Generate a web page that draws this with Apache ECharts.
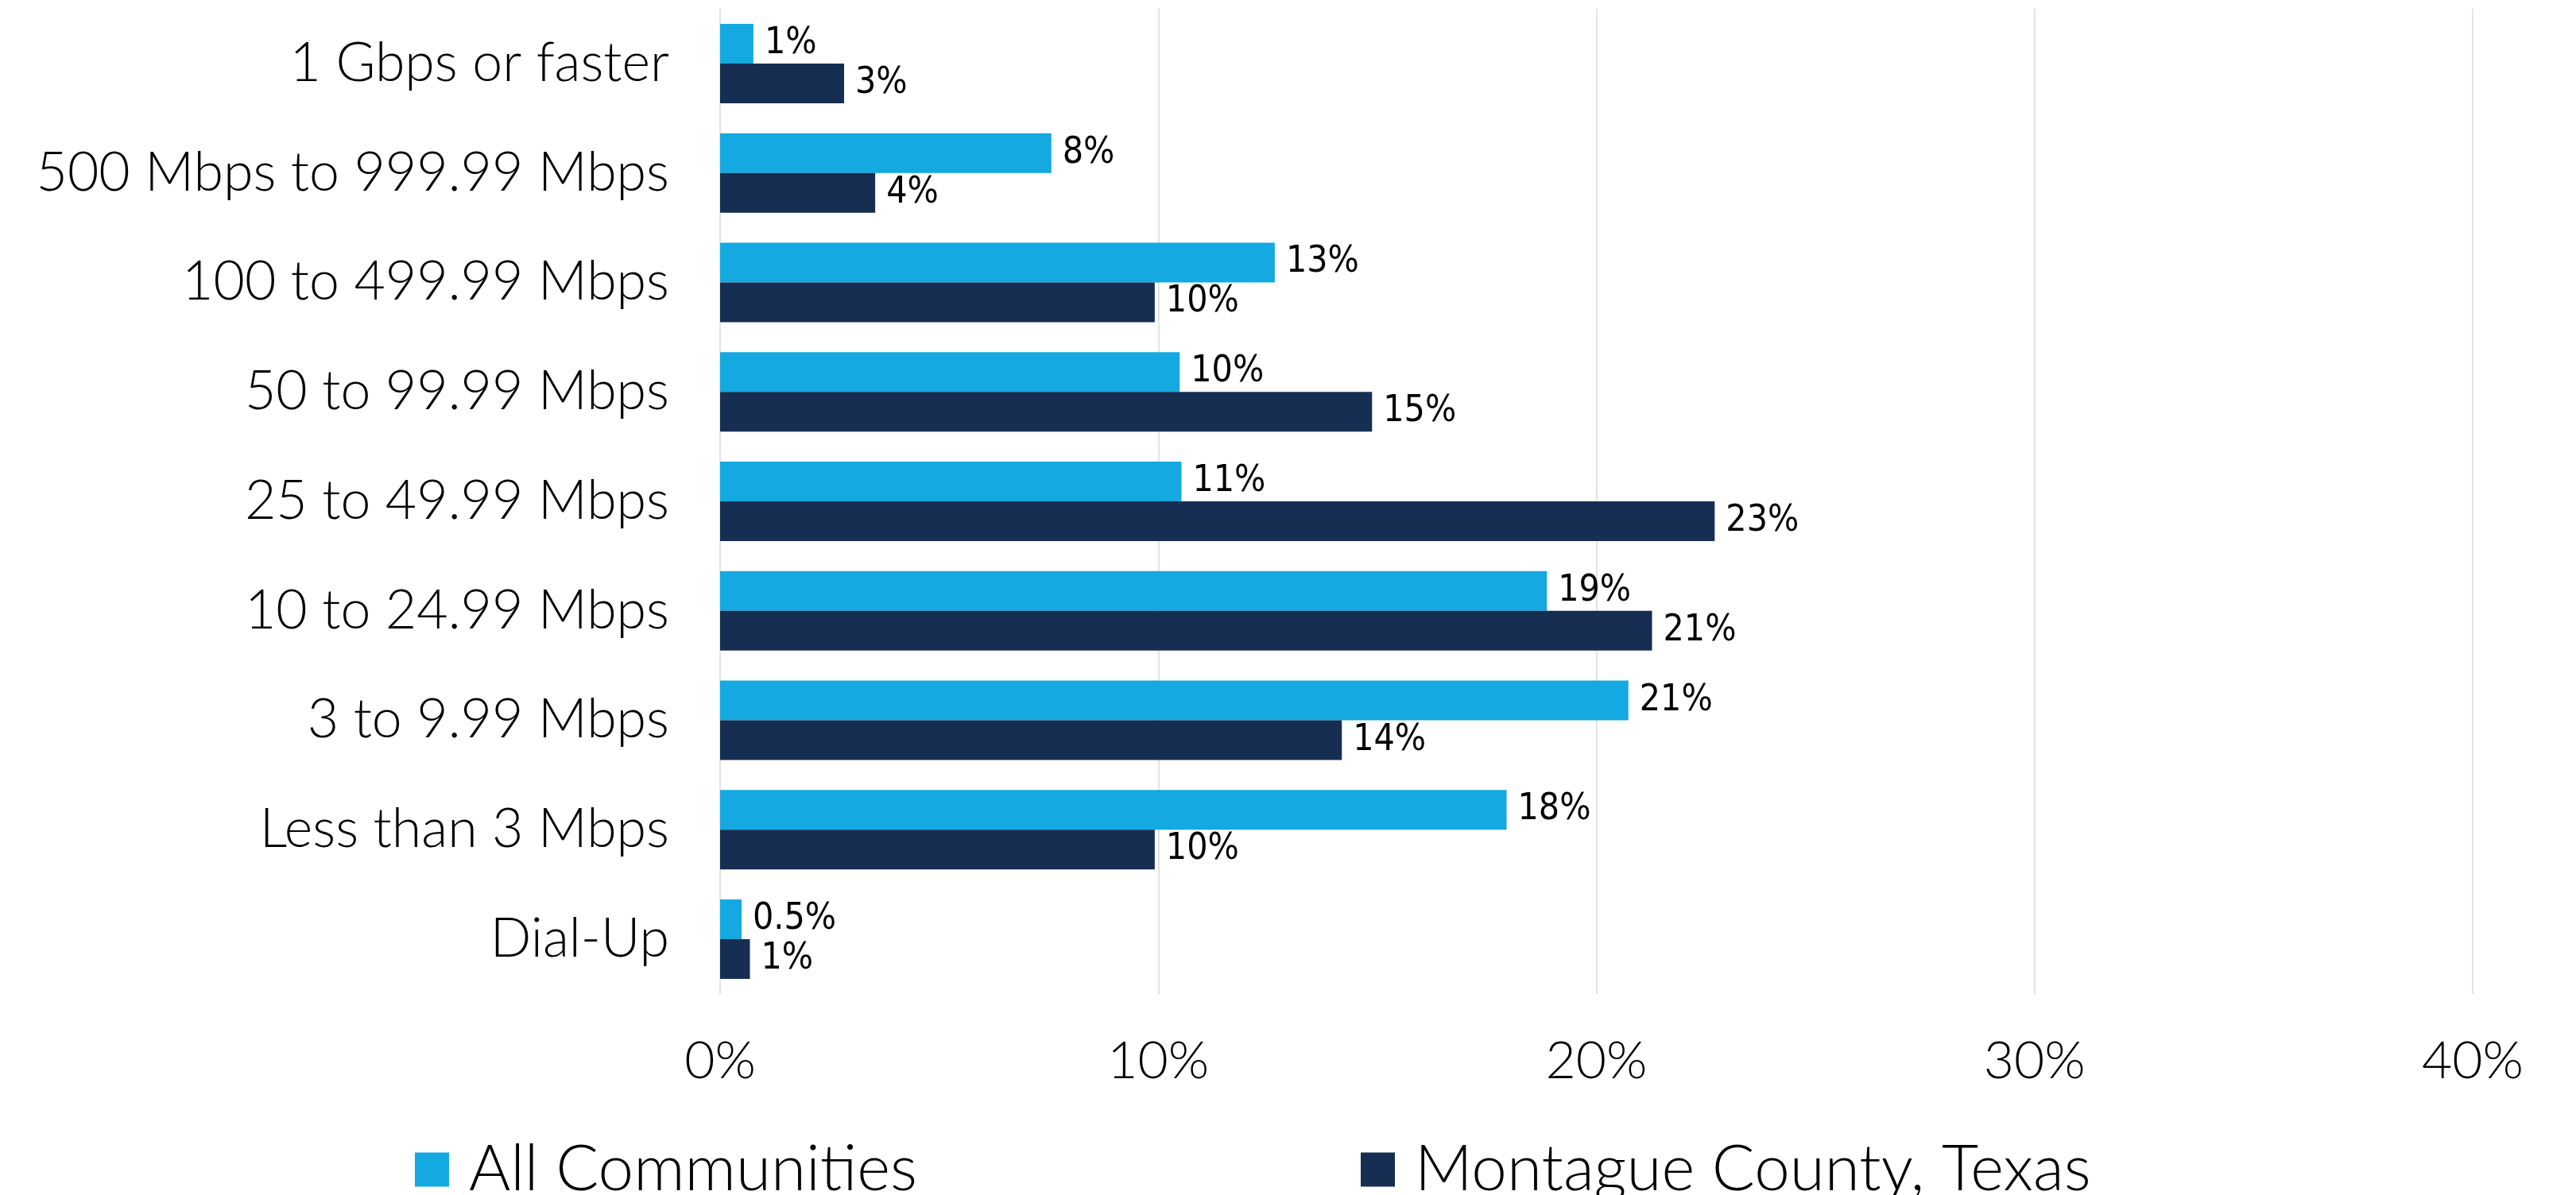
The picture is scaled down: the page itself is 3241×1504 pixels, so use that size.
<!DOCTYPE html>
<html>
<head>
<meta charset="utf-8">
<script src="https://cdn.jsdelivr.net/npm/echarts@6/dist/echarts.min.js"></script>
<style>
html,body{margin:0;padding:0;background:#fff;}
#chart{width:3241px;height:1504px;}
</style>
</head>
<body>
<div id="chart"></div>
<script>
const categories = ["1 Gbps or faster","500 Mbps to 999.99 Mbps","100 to 499.99 Mbps","50 to 99.99 Mbps","25 to 49.99 Mbps","10 to 24.99 Mbps","3 to 9.99 Mbps","Less than 3 Mbps","Dial-Up"];
const seriesNames = ["All Communities","Montague County, Texas"];
const allValues = [0.76, 7.56, 12.66, 10.49, 10.53, 18.87, 20.73, 17.95, 0.49];
const countyValues = [2.83, 3.54, 9.92, 14.88, 22.7, 21.27, 14.19, 9.92, 0.68];
const allLabels = ["1%","8%","13%","10%","11%","19%","21%","18%","0.5%"];
const countyLabels = ["3%","4%","10%","15%","23%","21%","14%","10%","1%"];
const xTicks = [0, 10, 20, 30, 40];

const colors = ["#14A9E1", "#162E52"];
const labelFont = "'Liberation Sans Narrow','DejaVu Sans Condensed',sans-serif";
const mainFont = "Lato, 'Open Sans', sans-serif";

function mkSeries(name, vals, labels, color) {
  return {
    name: name,
    type: 'bar',
    data: vals,
    barWidth: 50,
    barGap: '0%',
    itemStyle: { color: color },
    label: {
      show: true,
      position: 'right',
      distance: 14,
      color: '#000',
      fontFamily: labelFont,
      fontSize: 46,
      formatter: p => labels[p.dataIndex]
    }
  };
}

const legendText = { fontFamily: mainFont, fontWeight: 300, fontSize: 80, color: '#000', padding: [0,0,0,20], lineHeight: 84 };

const chart = echarts.init(document.getElementById('chart'), null, {renderer: 'canvas'});
chart.setOption({
  animation: false,
  backgroundColor: '#ffffff',
  grid: { left: 906, right: 130, top: 11, bottom: 1504 - 1251, containLabel: false },
  legend: [
    {
      data: [seriesNames[0]],
      left: 517, top: 1425,
      icon: 'rect', itemWidth: 43, itemHeight: 43,
      textStyle: legendText
    },
    {
      data: [seriesNames[1]],
      left: 1707, top: 1425,
      icon: 'rect', itemWidth: 43, itemHeight: 43,
      textStyle: legendText
    }
  ],
  xAxis: {
    type: 'value',
    min: xTicks[0], max: xTicks[xTicks.length - 1], interval: 10,
    axisLine: { show: false },
    axisTick: { show: false },
    splitLine: { show: true, lineStyle: { color: '#E3E3E3', width: 2 } },
    axisLabel: {
      formatter: v => v + '%',
      fontFamily: mainFont, fontWeight: 300, fontSize: 66, color: '#000',
      margin: 52, lineHeight: 66
    }
  },
  yAxis: {
    type: 'category',
    data: categories,
    inverse: true,
    axisLine: { show: true, lineStyle: { color: '#E3E3E3', width: 2 } },
    axisTick: { show: false },
    axisLabel: {
      fontFamily: mainFont, fontWeight: 300, fontSize: 68, color: '#000', margin: 64
    }
  },
  series: [
    mkSeries(seriesNames[0], allValues, allLabels, colors[0]),
    mkSeries(seriesNames[1], countyValues, countyLabels, colors[1])
  ]
});
</script>
</body>
</html>
